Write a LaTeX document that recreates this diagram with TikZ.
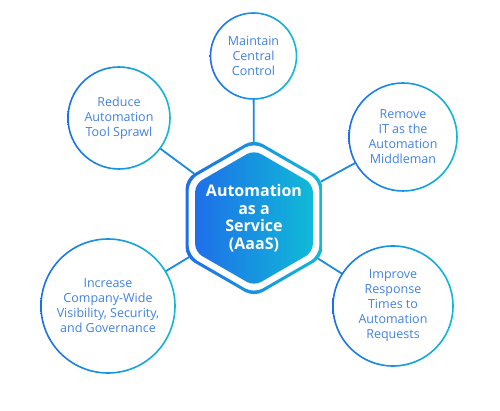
\documentclass[tikz,border=0pt]{standalone}
\usepackage{fontspec}
\setmainfont{Open Sans}
\usetikzlibrary{shapes.geometric}
\pgfdeclarelayer{background}
\pgfsetlayers{background,main}
\definecolor{gblue}{HTML}{1E6FE8}
\definecolor{gcyan}{HTML}{10BAD8}
\definecolor{txtblue}{HTML}{4282E0}
\definecolor{linec}{HTML}{1A8AE2}
\begin{document}
\begin{tikzpicture}[x=1pt,y=-1pt,
  bubble/.style={circle, inner sep=0pt, text=txtblue, align=center, font=\fontsize{12.5}{15}\selectfont},
  conn/.style={draw=linec, line width=1.8pt},
  gradfill/.style={left color=gblue, right color=gcyan},
  hexp/.style={insert path={([shift={(0:{#1*0.866})}]hex.center) -- ([shift={(30:#1)}]hex.center) -- ([shift={(90:#1)}]hex.center) -- ([shift={(150:#1)}]hex.center) -- ([shift={(210:#1)}]hex.center) -- ([shift={(270:#1)}]hex.center) -- ([shift={(330:#1)}]hex.center) -- cycle}}]
\useasboundingbox (0,0) rectangle (500,411);

\node[bubble, minimum size=86pt] (c1) at (253.5,56) {Maintain\\Central\\Control};
\node[bubble, minimum size=102pt] (c2) at (119,118) {Reduce\\Automation\\Tool Sprawl};
\node[bubble, minimum size=108pt] (c3) at (403,137) {Remove\\IT as the\\Automation\\Middleman};
\node[bubble, minimum size=120pt] (c4) at (393,306) {Improve\\Response\\Times to\\Automation\\Requests};
\node[bubble, minimum size=134pt] (c5) at (108,306) {Increase\\Company-Wide\\Visibility, Security,\\and Governance};

\node[text=white, align=center, font=\bfseries\fontsize{16}{17.5}\selectfont] (hex) at (254,218) {Automation\\as a\\Service\\(AaaS)};

\begin{pgfonlayer}{background}
  \fill[white] (0,0) rectangle (500,411);
  \foreach \c in {c1,c2,c3,c4,c5} {\draw[conn] (\c) -- (hex.center);}
  \fill[white, rounded corners=10pt][hexp=79pt];
  \shade[gradfill, even odd rule, rounded corners=10pt][hexp=79pt][hexp=75.5pt];
  \shade[gradfill, rounded corners=8pt][hexp=68pt];
  \foreach \c/\r in {c1/43,c2/51,c3/54,c4/60,c5/67} {
    \shade[gradfill, even odd rule] (\c.center) circle ({\r pt + 0.8pt}) (\c.center) circle ({\r pt - 0.8pt});
  }
\end{pgfonlayer}
\end{tikzpicture}
\end{document}
